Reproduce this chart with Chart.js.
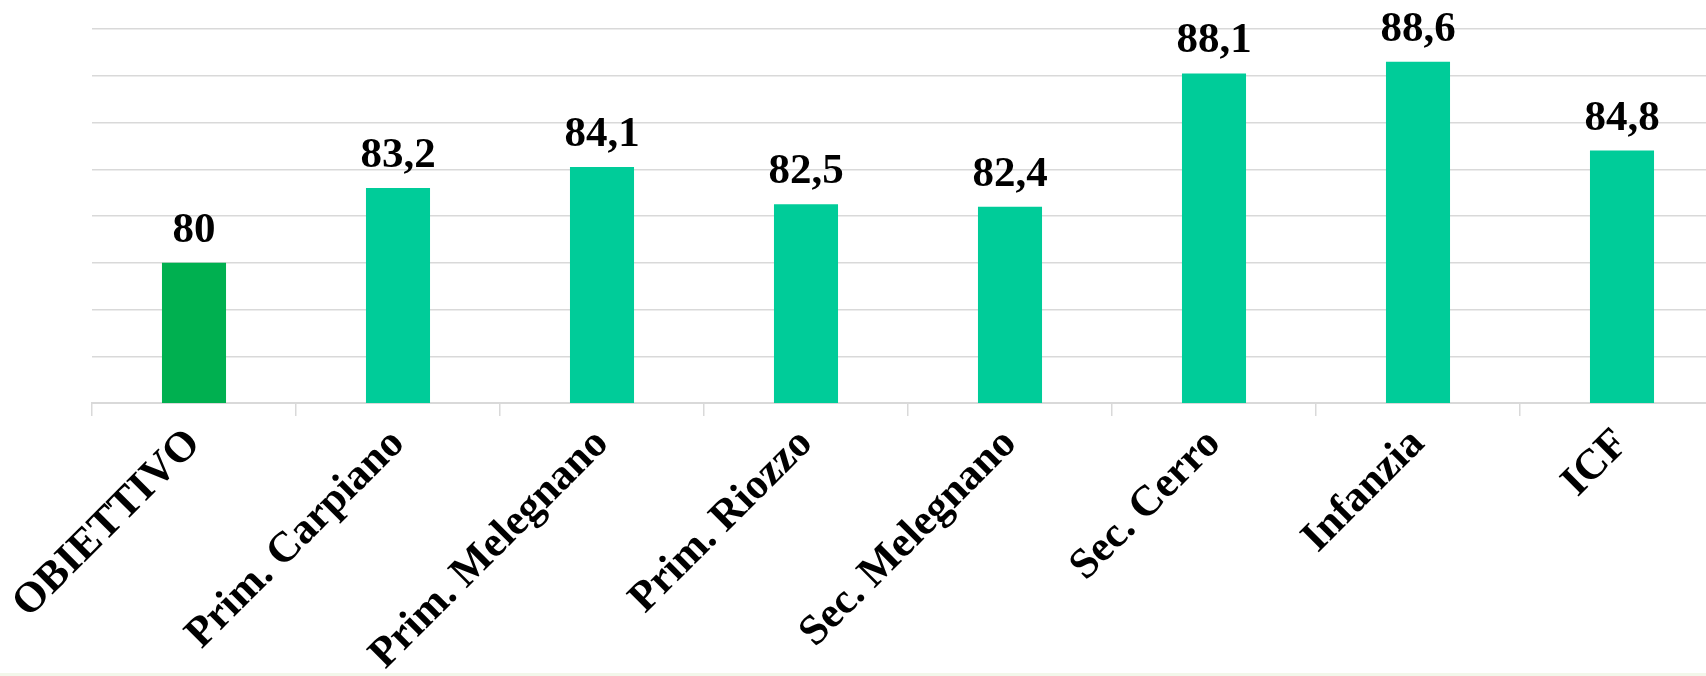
<!DOCTYPE html>
<html>
<head>
<meta charset="utf-8">
<script src="https://cdn.jsdelivr.net/npm/chart.js@4/dist/chart.umd.min.js"></script>
<style>
  html, body { margin: 0; padding: 0; overflow: hidden; background: #f2f7ea; }
  .wrap { width: 1724px; height: 673px; background: #ffffff; }
</style>
</head>
<body>
<div class="wrap"><canvas id="myChart" width="1724" height="673"></canvas></div>
<script>
var categories = [
  "OBIETTIVO",
  "Prim. Carpiano",
  "Prim. Melegnano",
  "Prim. Riozzo",
  "Sec. Melegnano",
  "Sec. Cerro",
  "Infanzia",
  "ICF",
];
var values = [80, 83.2, 84.1, 82.5, 82.4, 88.1, 88.6, 84.8];
var barColors = ["#00B050", "#00CC99", "#00CC99", "#00CC99", "#00CC99", "#00CC99", "#00CC99", "#00CC99"];

var serif = "'Liberation Serif', 'Times New Roman', serif";

// draws the value above each bar, with a comma as decimal mark
const valueLabels = {
  id: "valueLabels",
  afterDatasetsDraw(chart) {
    const ctx = chart.ctx;
    const meta = chart.getDatasetMeta(0);
    ctx.save();
    ctx.font = "bold 43px " + serif;
    ctx.fillStyle = "#000000";
    ctx.textAlign = "center";
    ctx.textBaseline = "alphabetic";
    meta.data.forEach((bar, i) => {
      const txt = String(values[i]).replace(".", ",");
      ctx.fillText(txt, bar.x, bar.y - 21);
    });
    ctx.restore();
  },
};

const config = {
  type: "bar",
  data: {
    labels: categories,
    datasets: [
      {
        data: values,
        backgroundColor: barColors,
        borderWidth: 0,
        categoryPercentage: 1,
        barPercentage: 0.314,
      },
    ],
  },
  options: {
    responsive: false,
    animation: false,
    layout: { padding: { top: 29, right: 0, left: 0, bottom: 0 } },
    plugins: {
      legend: { display: false },
      tooltip: { enabled: false },
    },
    scales: {
      x: {
        offset: true,
        grid: {
          offset: true,
          drawOnChartArea: false,
          drawTicks: true,
          tickLength: 13,
          color: "#d9d9d9",
          lineWidth: 1.5,
        },
        border: { display: true, color: "#d9d9d9", width: 2 },
        ticks: {
          minRotation: 45,
          maxRotation: 45,
          padding: 3,
          color: "#000000",
          font: { family: serif, size: 43, weight: "bold" },
        },
        afterFit: (scale) => {
          scale.height = 270;
        },
      },
      y: {
        min: 74,
        max: 90,
        ticks: { display: false, stepSize: 2 },
        grid: { color: "#d9d9d9", lineWidth: 1.5, drawTicks: false },
        border: { display: false },
        afterFit: (scale) => {
          scale.width = 92;
        },
      },
    },
  },
  plugins: [valueLabels],
};

const myChart = new Chart(document.getElementById("myChart"), config);
</script>
</body>
</html>
